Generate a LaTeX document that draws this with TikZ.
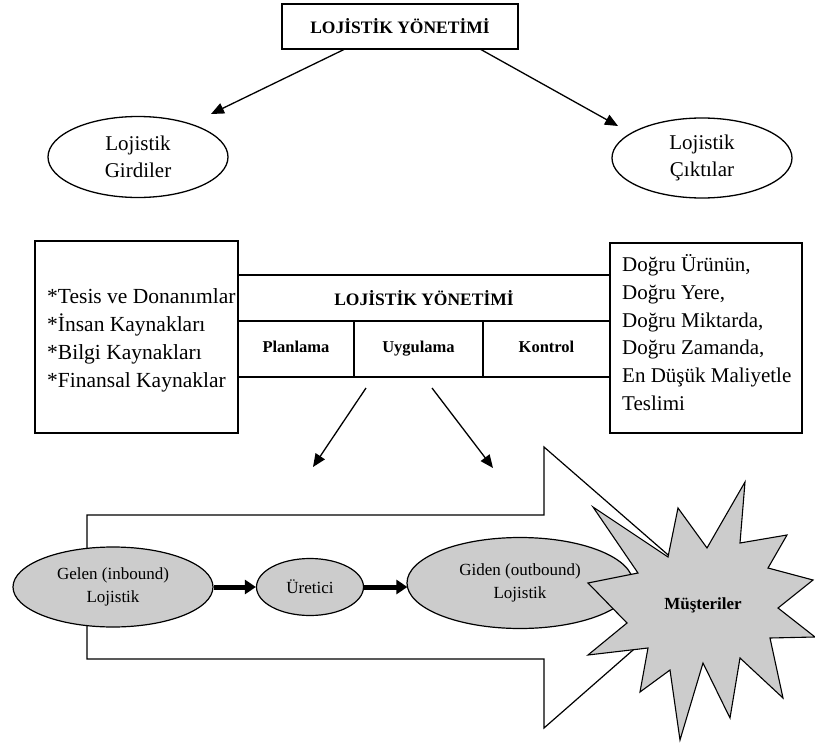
\documentclass[tikz,border=0pt]{standalone}
\usepackage{fontspec}
\setmainfont{Liberation Serif}
\usetikzlibrary{shapes.geometric,arrows.meta}
\begin{document}
\begin{tikzpicture}[x=1pt,y=-1pt,
  box/.style={draw, line width=1.3pt, rectangle, inner sep=0pt},
  oval/.style={draw, line width=1.3pt, ellipse, inner sep=0pt, align=center,
    font=\fontsize{21}{27}\selectfont},
  grayoval/.style={draw, line width=1.2pt, ellipse, inner sep=0pt, align=center,
    fill=black!20, font=\fontsize{17}{23}\selectfont},
  thinarrow/.style={line width=1.3pt, -{Triangle[length=13pt,width=11pt]}},
  thickarrow/.style={line width=5pt, -{Triangle[length=11pt,width=14pt]}},
  titletext/.style={font=\bfseries\fontsize{17.5}{20}\selectfont},
  celltext/.style={font=\bfseries\fontsize{16.5}{20}\selectfont,
    text height=11pt, text depth=4pt},
  listtext/.style={align=left, inner sep=0pt},
]
\useasboundingbox (0,0) rectangle (815,744);
\fill[white] (0,0) rectangle (815,744);

% --- top: management and its two sides
\node[box, line width=1.8pt, minimum width=236pt, minimum height=45pt, titletext]
  (top) at (400,26.5) {LOJİSTİK YÖNETİMİ};
\node[oval, minimum width=180pt, minimum height=81pt] (girdi) at (138,157)
  {Lojistik\\Girdiler};
\node[oval, minimum width=180pt, minimum height=80pt] (cikti) at (702,158)
  {Lojistik\\Çıktılar};
\coordinate (topL) at (345,49);
\coordinate (topR) at (480,49);
\coordinate (tipL) at (211,114);
\coordinate (tipR) at (618,126);
\draw[thinarrow] (topL) -- (tipL);
\draw[thinarrow] (topR) -- (tipR);

% --- middle: inputs, management functions, outputs
\node[box, minimum width=203pt, minimum height=192pt] (inbox) at (136.5,337) {};
\node[listtext, anchor=west, font=\fontsize{21.5}{28}\selectfont] (inlist) at (47,340)
  {*Tesis ve Donanımlar\\*İnsan Kaynakları\\*Bilgi Kaynakları\\*Finansal Kaynaklar};
\node[box, minimum width=192pt, minimum height=190pt] (outbox) at (706,338) {};
\node[listtext, anchor=west, font=\fontsize{21}{27.8}\selectfont] (outlist) at (622,332.5)
  {Doğru Ürünün,\\Doğru Yere,\\Doğru Miktarda,\\Doğru Zamanda,\\En Düşük Maliyetle\\Teslimi};

\node[box, minimum width=372pt, minimum height=46pt, titletext] (band) at (424,298)
  {LOJİSTİK YÖNETİMİ};
\node[box, minimum width=116pt, minimum height=56pt, celltext] (plan) at (296,349) {Planlama};
\node[box, minimum width=129pt, minimum height=56pt, celltext] (uyg) at (418.5,349) {Uygulama};
\node[box, minimum width=127pt, minimum height=56pt, celltext] (kont) at (546.5,349) {Kontrol};

\coordinate (midL) at (366,388);
\coordinate (midR) at (432,388);
\coordinate (downL) at (313,467);
\coordinate (downR) at (493,468);
\draw[thinarrow] (midL) -- (downL);
\draw[thinarrow] (midR) -- (downR);

% --- bottom: flow arrow towards the customers
\draw[line width=1.2pt, fill=white, line join=miter]
  (87,515) -- (544,515) -- (544,447) -- (705,587) -- (544,728) -- (544,659) -- (87,659) -- cycle;

\node[grayoval, minimum width=200pt, minimum height=80pt] (gelen) at (113,587)
  {Gelen (inbound)\\Lojistik};
\node[grayoval, minimum width=107pt, minimum height=57pt] (uret) at (310,587) {Üretici};
\node[grayoval, minimum width=226pt, minimum height=91pt] (giden) at (520,583)
  {Giden (outbound)\\Lojistik};
\draw[thickarrow] (gelen.east) -- (uret.west);
\draw[thickarrow] (uret.east) -- ([xshift=1pt]giden.west |- uret.east);

\draw[line width=1.1pt, fill=black!20, line join=miter]
  (745,482) -- (740,543) -- (787,535) -- (768,568) -- (813,580) -- (778,608)
  -- (815,637) -- (770,638) -- (783,698) -- (740,658) -- (730,718) -- (703,663)
  -- (680,740) -- (670,670) -- (640,692) -- (648,648) -- (588,655) -- (627,623)
  -- (588,583) -- (638,573) -- (593,507) -- (668,557) -- (678,508) -- (707,548)
  -- cycle;
\node[font=\bfseries\fontsize{17}{20}\selectfont] (must) at (703,605) {Müşteriler};
\end{tikzpicture}
\end{document}
